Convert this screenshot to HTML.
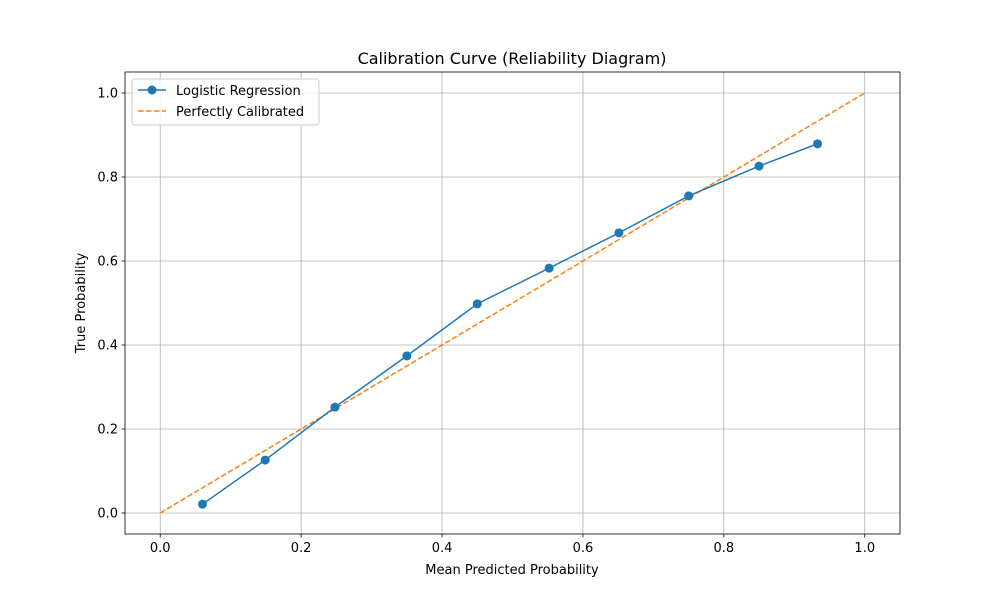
<!DOCTYPE html>
<html><head><meta charset="utf-8"><style>
body{margin:0;background:#fff}
svg text{font-family:"DejaVu Sans","Liberation Sans",sans-serif;fill:#000}
</style></head><body>
<svg id="chart" width="1000" height="600" xmlns="http://www.w3.org/2000/svg">
<rect width="1000" height="600" fill="#fff"/>
<g id="grid"></g>
<g id="axes"></g>
<g id="series"></g>
<text x="512" y="64" font-size="16" text-anchor="middle">Calibration Curve (Reliability Diagram)</text>
<text x="512" y="574" font-size="13" text-anchor="middle">Mean Predicted Probability</text>
<text x="85" y="303" font-size="13" text-anchor="middle" transform="rotate(-90 85 303)">True Probability</text>
<g>
<rect x="132" y="79" width="187" height="46" rx="3" fill="#fff" fill-opacity="0.8" stroke="#ccc"/>
<g>
<line x1="138" y1="90" x2="166" y2="90" stroke="#1f77b4" stroke-width="1.5"/>
<circle cx="152" cy="90" r="4.5" fill="#1f77b4"/>
<text x="176" y="95" font-size="13">Logistic Regression</text></g>
<g>
<line x1="138" y1="111" x2="166" y2="111" stroke="#ff7f0e" stroke-width="1.5" stroke-dasharray="5.5,2.4"/>
<text x="176" y="116" font-size="13">Perfectly Calibrated</text></g>
</g>
</svg>
<script>
const xTicks=[0,0.2,0.4,0.6,0.8,1.0];
const yTicks=[0,0.2,0.4,0.6,0.8,1.0];
const predProb=[0.060,0.149,0.248,0.350,0.450,0.552,0.651,0.750,0.850,0.933];
const trueProb=[0.021,0.126,0.252,0.374,0.498,0.583,0.667,0.755,0.826,0.879];
const perfect=[0,1];
const NS='http://www.w3.org/2000/svg';
const L=125,R=900,T=72,B=534;
const xs=v=>L+(v+0.05)/1.1*(R-L);
const ys=v=>B-(v+0.05)/1.1*(B-T);
function mk(t,a,p){const e=document.createElementNS(NS,t);for(const k in a)e.setAttribute(k,a[k]);p.appendChild(e);return e;}
const grid=document.getElementById('grid'),axes=document.getElementById('axes'),ser=document.getElementById('series');
xTicks.forEach(v=>{const x=xs(v);
const g=mk('line',{x1:x,x2:x,y1:T,y2:B,stroke:'#b0b0b0','stroke-width':0.8},grid);

mk('line',{x1:x,x2:x,y1:B,y2:B+3.5,stroke:'#000','stroke-width':0.8},axes);
const t=mk('text',{x:x,y:B+18,'font-size':13,'text-anchor':'middle'},axes);t.textContent=v.toFixed(1);
});
yTicks.forEach(v=>{const y=ys(v);
const g=mk('line',{x1:L,x2:R,y1:y,y2:y,stroke:'#b0b0b0','stroke-width':0.8},grid);

mk('line',{x1:L-3.5,x2:L,y1:y,y2:y,stroke:'#000','stroke-width':0.8},axes);
const t=mk('text',{x:L-7,y:y+4.5,'font-size':13,'text-anchor':'end'},axes);t.textContent=v.toFixed(1);
});
const fr=mk('rect',{x:L,y:T,width:R-L,height:B-T,fill:'none',stroke:'#000','stroke-width':0.8},axes);

const pl=mk('polyline',{points:perfect.map(v=>xs(v)+','+ys(v)).join(' '),fill:'none',stroke:'#ff7f0e','stroke-width':1.5,'stroke-dasharray':'5.5,2.4'},ser);

const ll=mk('polyline',{points:predProb.map((v,i)=>xs(v)+','+ys(trueProb[i])).join(' '),fill:'none',stroke:'#1f77b4','stroke-width':1.5},ser);

predProb.forEach((v,i)=>{const c=mk('circle',{cx:xs(v),cy:ys(trueProb[i]),r:4.5,fill:'#1f77b4'},ser);
});
</script>
</body></html>
